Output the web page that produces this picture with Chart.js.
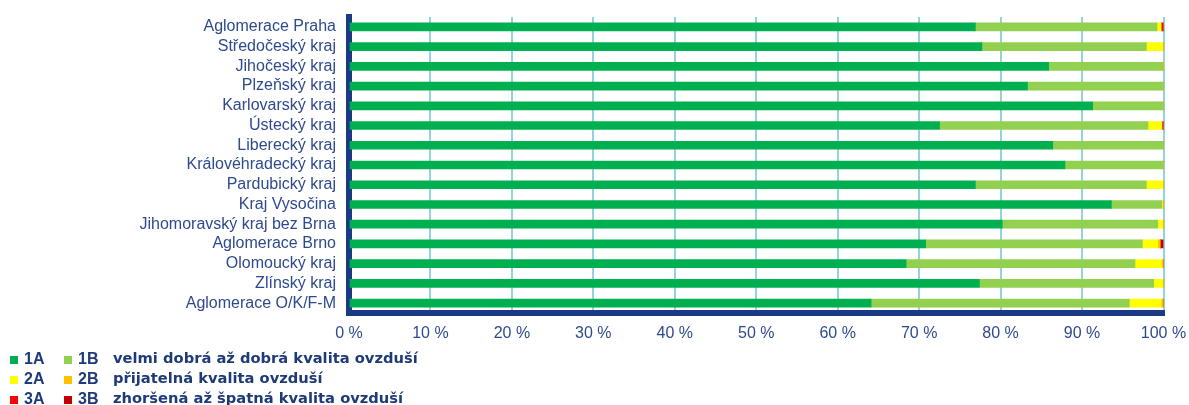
<!DOCTYPE html>
<html>
<head>
<meta charset="utf-8">
<script src="https://cdn.jsdelivr.net/npm/chart.js@4/dist/chart.umd.min.js"></script>
<style>
  html, body { margin: 0; padding: 0; background: #fff; }
  #wrap { width: 1189px; height: 405px; position: relative; }
</style>
</head>
<body>
<div id="wrap"><canvas id="chart"></canvas></div>
<script>
const KRAJE = [
    "Aglomerace Praha", "Středočeský kraj", "Jihočeský kraj", "Plzeňský kraj",
    "Karlovarský kraj", "Ústecký kraj", "Liberecký kraj", "Královéhradecký kraj",
    "Pardubický kraj", "Kraj Vysočina", "Jihomoravský kraj bez Brna", "Aglomerace Brno",
    "Olomoucký kraj", "Zlínský kraj", "Aglomerace O/K/F-M",
];

// podíl území v jednotlivých třídách kvality ovzduší (%)
const T1A = [76.9, 77.7, 85.9, 83.3, 91.3, 72.5, 86.4, 87.9, 76.9, 93.6, 80.2, 70.8, 68.4, 77.4, 64.1];
const T1B = [22.3, 20.2, 14.0, 16.7, 8.7, 25.6, 13.6, 12.1, 21.0, 6.2, 19.1, 26.6, 28.1, 21.4, 31.7];
const T2A = [0.5, 2.1, 0.1, 0, 0, 1.7, 0, 0, 2.1, 0.2, 0.7, 1.9, 3.3, 1.2, 3.9];
const T2B = [0, 0, 0, 0, 0, 0, 0, 0, 0, 0, 0, 0.3, 0.2, 0, 0.3];
const T3A = [0.3, 0, 0, 0, 0, 0.2, 0, 0, 0, 0, 0, 0, 0, 0, 0];
const T3B = [0, 0, 0, 0, 0, 0, 0, 0, 0, 0, 0, 0.4, 0, 0, 0];

const X_TICKS = [0, 10, 20, 30, 40, 50, 60, 70, 80, 90, 100];

const LEGEND_ROWS = [
    ["1A", "1B", "velmi dobrá až dobrá kvalita ovzduší"],
    ["2A", "2B", "přijatelná kvalita ovzduší"],
    ["3A", "3B", "zhoršená až špatná kvalita ovzduší"],
];

const BARVY = {
    "1A": "#00b050", "1B": "#92d050",
    "2A": "#ffff00", "2B": "#ffc000",
    "3A": "#ff0000", "3B": "#c00000",
};

const NAVY = "#1b3a84";
const TEXT_BLUE = "#2e4a8e";
const FONT = "'Liberation Sans', Arial, sans-serif";

function ds(label, data) {
    return { label, data, backgroundColor: BARVY[label], barThickness: 8, borderWidth: 0 };
}

function noScalePadding(scale) {
    scale.paddingTop = 0;
    scale.paddingBottom = 0;
    scale.paddingLeft = 0;
    scale.paddingRight = 0;
}

const legendPlugin = {
    id: "tridyLegend",
    afterDraw(chart) {
        const ctx = chart.ctx;
        ctx.save();
        ctx.textBaseline = "middle";
        LEGEND_ROWS.forEach((row, i) => {
            const y = 359 + i * 20;
            ctx.fillStyle = BARVY[row[0]];
            ctx.fillRect(10, y - 3, 8, 8);
            ctx.fillStyle = BARVY[row[1]];
            ctx.fillRect(64, y - 3, 8, 8);
            ctx.fillStyle = "#1f3a78";
            ctx.font = `bold 16px ${FONT}`;
            ctx.fillText(row[0], 24, y + 1);
            ctx.fillText(row[1], 78, y + 1);
            ctx.font = `bold 14.7px 'DejaVu Sans', sans-serif`;
            ctx.fillText(row[2], 113, y);
        });
        ctx.restore();
    },
};

new Chart(document.getElementById("chart"), {
    type: "bar",
    data: {
        labels: KRAJE,
        datasets: [
            ds("1A", T1A), ds("1B", T1B),
            ds("2A", T2A), ds("2B", T2B),
            ds("3A", T3A), ds("3B", T3B),
        ],
    },
    plugins: [legendPlugin],
    options: {
        indexAxis: "y",
        responsive: true,
        maintainAspectRatio: false,
        animation: false,
        layout: { padding: { top: 17, right: 25.5, left: 0, bottom: 0 } },
        plugins: {
            legend: { display: false },
            tooltip: { enabled: false },
        },
        scales: {
            x: {
                stacked: true,
                min: 0,
                max: 100,
                afterBuildTicks: (scale) => { scale.ticks = X_TICKS.map((v) => ({ value: v })); },
                afterFit: (scale) => { scale.height = 92; noScalePadding(scale); },
                ticks: {
                    color: TEXT_BLUE,
                    font: { family: FONT, size: 16 },
                    padding: 11,
                    callback: (v) => `${v} %`,
                },
                grid: { color: "#93d3e0", lineWidth: 2, drawTicks: false },
                border: { color: NAVY, width: 6 },
            },
            y: {
                stacked: true,
                afterFit: (scale) => { scale.width = 349; noScalePadding(scale); },
                ticks: {
                    color: TEXT_BLUE,
                    font: { family: FONT, size: 16 },
                    padding: 13,
                    autoSkip: false,
                },
                grid: { display: false, drawTicks: false },
                border: { color: NAVY, width: 6 },
            },
        },
    },
});
</script>
</body>
</html>
